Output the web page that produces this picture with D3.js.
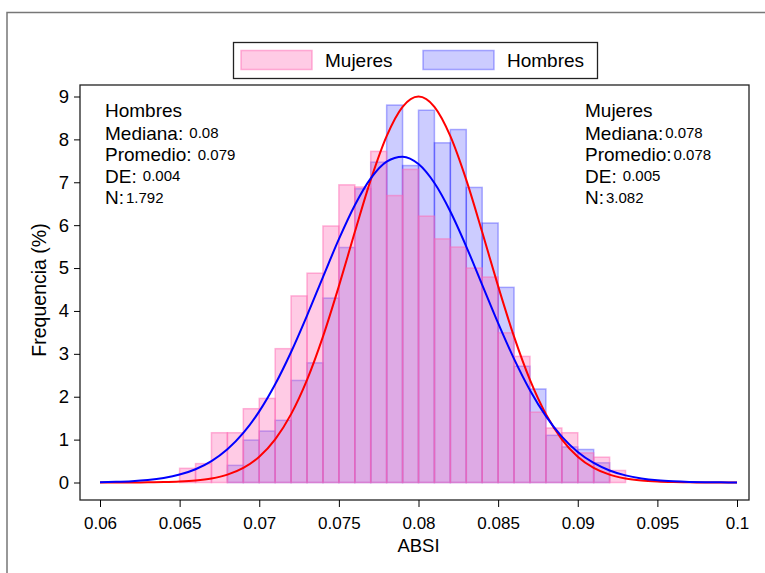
<!DOCTYPE html>
<html>
<head>
<meta charset="utf-8">
<script src="https://cdn.jsdelivr.net/npm/d3@7"></script>
<style>
  body { margin: 0; background: #fff; }
  text { font-family: "Liberation Sans", Arial, sans-serif; fill: #000; }
</style>
</head>
<body>
<svg id="chart" width="765" height="573"></svg>
<script>
// bins are 0.001 wide, keyed by lower edge
var mujeresBins = [0.065, 0.066, 0.067, 0.068, 0.069, 0.070, 0.071, 0.072, 0.073, 0.074,
  0.075, 0.076, 0.077, 0.078, 0.079, 0.080, 0.081, 0.082, 0.083, 0.084,
  0.085, 0.086, 0.087, 0.088, 0.089, 0.090, 0.091, 0.092]
var mujeresPct = [0.33, 0.44, 1.16, 1.16, 1.72, 1.96, 3.12, 4.35, 4.88, 5.98,
  6.94, 6.89, 7.72, 6.69, 7.30, 6.21, 5.68, 5.49, 5.00, 4.79,
  3.49, 2.94, 1.64, 1.27, 1.16, 0.69, 0.59, 0.28]

var hombresBins = [0.068, 0.069, 0.070, 0.071, 0.072, 0.073, 0.074, 0.075, 0.076, 0.077,
  0.078, 0.079, 0.080, 0.081, 0.082, 0.083, 0.084, 0.085, 0.086, 0.087,
  0.088, 0.089, 0.090, 0.091]
var hombresPct = [0.40, 0.99, 1.20, 1.45, 2.38, 2.79, 4.30, 5.48, 6.85, 7.47,
  8.80, 7.39, 8.68, 7.92, 8.23, 6.88, 6.05, 4.55, 2.71, 2.18,
  1.10, 0.83, 0.77, 0.46]

// fitted curves, x = 0.060 .. 0.100 step 0.001
var curveX = d3.range(41).map(function(i) { return +(0.060 + i * 0.001).toFixed(3); });
var redCurve = [0.000, 0.001, 0.002, 0.004, 0.009, 0.021, 0.045, 0.093, 0.183, 0.341,
  0.602, 1.007, 1.594, 2.392, 3.400, 4.578, 5.839, 7.056, 8.077, 8.760,
  9.000,
  8.760, 8.077, 7.056, 5.839, 4.578, 3.400, 2.392, 1.594, 1.007, 0.602,
  0.341, 0.183, 0.093, 0.045, 0.021, 0.009, 0.004, 0.002, 0.001, 0.000]
var blueCurve = [0.008, 0.016, 0.031, 0.059, 0.107, 0.185, 0.310, 0.499, 0.774, 1.155,
  1.658, 2.290, 3.043, 3.892, 4.790, 5.673, 6.465, 7.091, 7.483, 7.598,
  7.425, 6.982, 6.318, 5.502, 4.610, 3.717, 2.884, 2.153, 1.547, 1.069,
  0.711, 0.455, 0.281, 0.166, 0.095, 0.052, 0.028, 0.014, 0.007, 0.003, 0.001]

var xTicks = [0.06, 0.065, 0.07, 0.075, 0.08, 0.085, 0.09, 0.095, 0.1]
var yTicks = [0, 1, 2, 3, 4, 5, 6, 7, 8, 9]

var legendItems = ["Mujeres", "Hombres"]
var hombresStats = [["Mediana:", " 0.08"], ["Promedio:", " 0.079"], ["DE:", " 0.004"], ["N:", "1.792"]]
var mujeresStats = [["Mediana:", "0.078"], ["Promedio:", "0.078"], ["DE:", " 0.005"], ["N:", "3.082"]]

var pink = "#ff69b4", blue = "#0000ff";

var svg = d3.select("#chart");
var box = {left: 80, right: 749, top: 85, bottom: 500};

var x = d3.scaleLinear().domain([0.06, 0.1]).range([100, 737]);
var y = d3.scaleLinear().domain([0, 9]).range([482.5, 96.5]);

// outer frame
svg.append("path")
  .attr("d", "M7,575V12.5H767")
  .attr("fill", "none")
  .attr("stroke", "#777")
  .attr("stroke-width", 1.5);

// bars
function drawBars(bins, vals, color, fo, so) {
  svg.append("g")
    .selectAll("rect")
    .data(bins)
    .enter().append("rect")
      .attr("x", function(d) { return x(d); })
      .attr("width", function(d) { return x(d + 0.001) - x(d); })
      .attr("y", function(d, i) { return y(vals[i]); })
      .attr("height", function(d, i) { return y(0) - y(vals[i]); })
      .attr("fill", color)
      .attr("fill-opacity", fo)
      .attr("stroke", color)
      .attr("stroke-opacity", so)
      .attr("stroke-width", 1.5);
}
drawBars(hombresBins, hombresPct, blue, 0.2, 0.3);
drawBars(mujeresBins, mujeresPct, pink, 0.35, 0.5);

var line = d3.line()
  .x(function(d, i) { return x(curveX[i]); })
  .y(function(d) { return y(d); })
  .curve(d3.curveMonotoneX);

svg.append("path").datum(redCurve)
  .attr("d", line).attr("fill", "none").attr("stroke", "#ff0000").attr("stroke-width", 2);
svg.append("path").datum(blueCurve)
  .attr("d", line).attr("fill", "none").attr("stroke", "#0000ff").attr("stroke-width", 2);

// plot box
svg.append("rect")
  .attr("x", box.left).attr("y", box.top)
  .attr("width", box.right - box.left).attr("height", box.bottom - box.top)
  .attr("fill", "none").attr("stroke", "#222").attr("stroke-width", 1.3);

// axes
var xAxis = d3.axisBottom(x).tickValues(xTicks).tickSize(7).tickPadding(10)
  .tickFormat(function(d) { return String(+d.toFixed(3)); });
var gx = svg.append("g").attr("transform", "translate(0," + box.bottom + ")").call(xAxis);
gx.select(".domain").remove();
gx.selectAll("text").attr("font-size", 17).attr("font-family", "Liberation Sans, Arial, sans-serif");

var yAxis = d3.axisLeft(y).tickValues(yTicks).tickSize(6).tickPadding(5);
var gy = svg.append("g").attr("transform", "translate(" + box.left + ",0)").call(yAxis);
gy.select(".domain").remove();
gy.selectAll("text").attr("font-size", 18.5).attr("font-family", "Liberation Sans, Arial, sans-serif");

svg.append("text")
  .attr("x", x(0.08)).attr("y", 552)
  .attr("text-anchor", "middle").attr("font-size", 18.5)
  .text("ABSI");

svg.append("text")
  .attr("transform", "translate(46,290) rotate(-90)")
  .attr("text-anchor", "middle").attr("font-size", 19.5)
  .text("Frequencia (%)");

// legend
var lg = svg.append("g");
lg.append("rect").attr("x", 233.5).attr("y", 42.5).attr("width", 364).attr("height", 36)
  .attr("fill", "#fff").attr("stroke", "#222").attr("stroke-width", 1.3);
var swatch = [[241, pink, 0.35, 0.5], [423, blue, 0.2, 0.3]];
legendItems.forEach(function(name, i) {
  lg.append("rect").attr("x", swatch[i][0]).attr("y", 50.5).attr("width", 71).attr("height", 19)
    .attr("fill", swatch[i][1]).attr("fill-opacity", swatch[i][2])
    .attr("stroke", swatch[i][1]).attr("stroke-opacity", swatch[i][3]).attr("stroke-width", 1.5);
  lg.append("text").attr("x", swatch[i][0] + 84).attr("y", 67).attr("font-size", 19).text(name);
});

// stats blocks
function statBlock(x0, title, rows) {
  var g = svg.append("g");
  g.append("text").attr("x", x0).attr("y", 117).attr("font-size", 19).text(title);
  rows.forEach(function(r, i) {
    var t = g.append("text").attr("x", x0).attr("y", 139.5 + i * 21.5).attr("font-size", 19);
    t.append("tspan").text(r[0]);
    t.append("tspan").attr("font-size", 15).attr("dy", -1.5).attr("dx", 2).text(r[1]);
  });
}
statBlock(105, "Hombres", hombresStats);
statBlock(585, "Mujeres", mujeresStats);
</script>
</body>
</html>
